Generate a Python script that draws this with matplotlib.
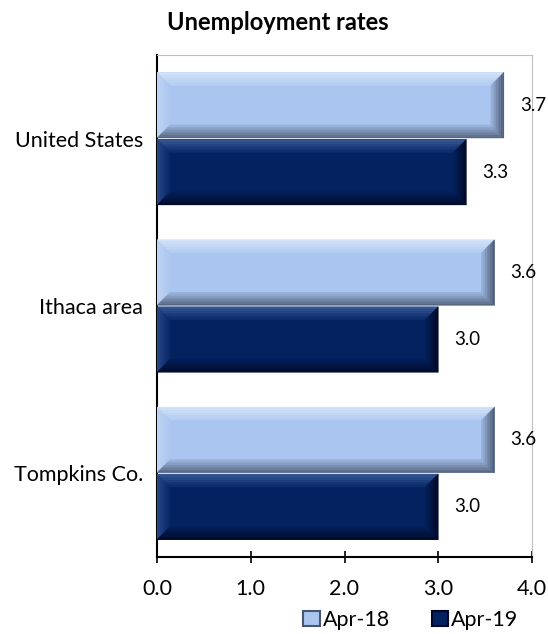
import matplotlib
matplotlib.use("Agg")
import matplotlib.pyplot as plt
import numpy as np
from matplotlib.patches import Polygon, Patch
from matplotlib.colors import to_rgb

# --- data ---
categories = ["Tompkins Co.", "Ithaca area", "United States"]
apr18 = [3.6, 3.6, 3.7]
apr19 = [3.0, 3.0, 3.3]
series_names = ["Apr-18", "Apr-19"]
x_ticks = [0.0, 1.0, 2.0, 3.0, 4.0]

plt.rcParams["font.family"] = ["Lato", "DejaVu Sans"]

fig = plt.figure(figsize=(5.48, 6.34), dpi=100)
ax = fig.add_axes([157 / 548, 1 - 557 / 634, 375 / 548, 502 / 634])
ax.set_xlim(0, 4.0)
ax.set_ylim(-0.5, 2.5)

# face colour, then (outer, inner) for top, left, bottom, right bevels
light = {"face": "#A9C5F0",
         "top": ("#D6E4F9", "#B3CCF2"),
         "left": ("#C2D6F4", "#ABC6F0"),
         "bottom": ("#52617B", "#9CB6DE"),
         "right": ("#48566F", "#9CB6DE")}
dark = {"face": "#03225F",
        "top": ("#3B5B98", "#0A2A6A"),
        "left": ("#2A4A88", "#072767"),
        "bottom": ("#000A26", "#03205C"),
        "right": ("#000823", "#03205C")}

px_x = 375 / 4.0      # pixels per x unit
px_y = 502 / 3.0      # pixels per y unit
bev = 13
bx = bev / px_x
by = bev / px_y
h = 0.392
n_strips = 8


def mix(c0, c1, t):
    a, b = np.array(to_rgb(c0)), np.array(to_rgb(c1))
    return tuple(a + (b - a) * t)


def bevel_bar(ax, y, v, cols):
    x0, x1 = 0.0, v
    y0, y1 = y - h / 2, y + h / 2
    ax.add_patch(Polygon([(x0, y0), (x1, y0), (x1, y1), (x0, y1)], closed=True,
                         facecolor=cols["face"], edgecolor="none", zorder=2))
    for k in range(n_strips):
        d0, d1 = k / n_strips, (k + 1) / n_strips
        t = (k + 0.5) / n_strips
        a0, a1 = d0 * bx, d1 * bx
        b0, b1 = d0 * by, d1 * by
        sides = {
            "top": [(x0 + a0, y1 - b0), (x1 - a0, y1 - b0), (x1 - a1, y1 - b1), (x0 + a1, y1 - b1)],
            "left": [(x0 + a0, y0 + b0), (x0 + a1, y0 + b1), (x0 + a1, y1 - b1), (x0 + a0, y1 - b0)],
            "bottom": [(x0 + a0, y0 + b0), (x1 - a0, y0 + b0), (x1 - a1, y0 + b1), (x0 + a1, y0 + b1)],
            "right": [(x1 - a0, y0 + b0), (x1 - a0, y1 - b0), (x1 - a1, y1 - b1), (x1 - a1, y0 + b1)],
        }
        for side, pts in sides.items():
            c_out, c_in = cols[side]
            ax.add_patch(Polygon(pts, closed=True, facecolor=mix(c_out, c_in, t),
                                 edgecolor=mix(c_out, c_in, t), linewidth=0.3, zorder=3))
    ax.text(v + 16 / px_x, y, f"{v:.1f}", va="center", ha="left", fontsize=13.5,
            color="black")


for i, cat in enumerate(categories):
    bevel_bar(ax, i + 0.2, apr18[i], light)
    bevel_bar(ax, i - 0.2, apr19[i], dark)

ax.set_yticks(range(len(categories)))
ax.set_yticklabels(categories, fontsize=15.5)
ax.tick_params(axis="y", length=0, pad=10)
ax.set_xticks(x_ticks)
ax.set_xticklabels([f"{t:.1f}" for t in x_ticks], fontsize=15.5)
ax.tick_params(axis="x", direction="inout", length=9, width=1.2, pad=11)

ax.spines["left"].set_color("black")
ax.spines["left"].set_linewidth(1.5)
ax.spines["bottom"].set_color("black")
ax.spines["bottom"].set_linewidth(1.5)
ax.spines["top"].set_color("#BFBFBF")
ax.spines["right"].set_color("#BFBFBF")

fig.text(278 / 548, 1 - 23 / 634, "Unemployment rates", ha="center", va="center",
         fontsize=17, fontweight="bold")

handles = [Patch(facecolor=light["face"], edgecolor=light["right"][0], linewidth=1.5),
           Patch(facecolor=dark["face"], edgecolor=dark["right"][0], linewidth=1.5)]
fig.legend(handles, series_names, loc="center", bbox_to_anchor=(411 / 548, 1 - 620 / 634),
           ncol=2, frameon=False, fontsize=15.5, handlelength=0.75, handleheight=0.75,
           handletextpad=0.15, columnspacing=1.95)

fig.savefig("out.png", dpi=100)
